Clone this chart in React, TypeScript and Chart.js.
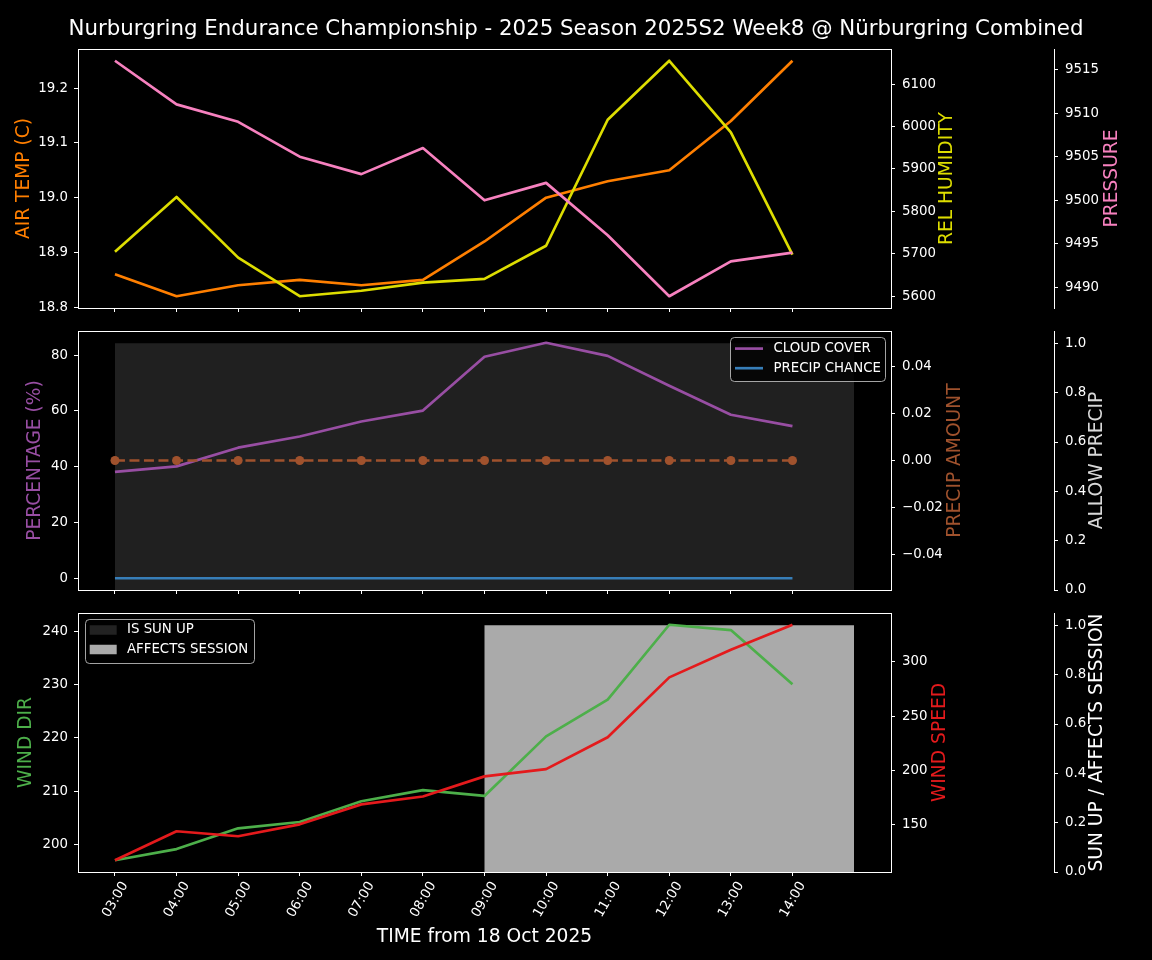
import React, { useEffect, useRef } from 'react';
import { Chart, registerables } from 'chart.js';

Chart.register(...registerables);

// ---------------- DATA ----------------
const HOURS = ['03:00', '04:00', '05:00', '06:00', '07:00', '08:00', '09:00', '10:00', '11:00', '12:00', '13:00', '14:00'];
// flags run one hour further (to 15:00)
const FLAG_HOURS = ['03:00', '04:00', '05:00', '06:00', '07:00', '08:00', '09:00', '10:00', '11:00', '12:00', '13:00', '14:00', '15:00'];

const AIR_TEMP = [18.86, 18.82, 18.84, 18.85, 18.84, 18.85, 18.92, 19.0, 19.03, 19.05, 19.14, 19.25];
const REL_HUMIDITY = [5705, 5834, 5691, 5600, 5613, 5632, 5641, 5719, 6016, 6155, 5986, 5698];
const PRESSURE = [9516, 9511, 9509, 9505, 9503, 9506, 9500, 9502, 9496, 9489, 9493, 9494];

const CLOUD_COVER = [38.1, 40.1, 46.8, 50.8, 56.2, 60.1, 79.4, 84.4, 79.7, 69.0, 58.6, 54.5];
const PRECIP_CHANCE = [0, 0, 0, 0, 0, 0, 0, 0, 0, 0, 0, 0];
const PRECIP_AMOUNT = [0, 0, 0, 0, 0, 0, 0, 0, 0, 0, 0, 0];
const ALLOW_PRECIP = [1, 1, 1, 1, 1, 1, 1, 1, 1, 1, 1, 1, 1];

const WIND_DIR = [197.0, 199.1, 203.0, 204.2, 208.1, 210.2, 209.1, 220.3, 227.2, 241.3, 240.3, 230.1];
const WIND_SPEED = [117.2, 143.9, 139.3, 150.3, 168.7, 176.0, 194.5, 201.2, 230.6, 285.8, 311.3, 334.3];
const IS_SUN_UP = [0, 0, 0, 0, 0, 0, 0, 0, 0, 0, 0, 0, 0];
const AFFECTS_SESSION = [0, 0, 0, 0, 0, 0, 1, 1, 1, 1, 1, 1, 1];

// tick labels
const TEMP_TICKS = [18.8, 18.9, 19.0, 19.1, 19.2];
const HUMIDITY_TICKS = [5600, 5700, 5800, 5900, 6000, 6100];
const PRESSURE_TICKS = [9490, 9495, 9500, 9505, 9510, 9515];
const PERCENT_TICKS = [0, 20, 40, 60, 80];
const PRECIP_AMOUNT_TICKS = [-0.04, -0.02, 0, 0.02, 0.04];
const FLAG_TICKS = [0, 0.2, 0.4, 0.6, 0.8, 1.0];
const WIND_DIR_TICKS = [200, 210, 220, 230, 240];
const WIND_SPEED_TICKS = [150, 200, 250, 300];

const TITLE = 'Nurburgring Endurance Championship - 2025 Season 2025S2 Week8 @ Nürburgring Combined';

// ---------------- STYLE ----------------
const FAMILY = '"DejaVu Sans", "Liberation Sans", sans-serif';
const TICK_FONT = { family: FAMILY, size: 13.33 };
const LW = 2.67;
const COL = {
  temp: '#ff7f00',
  humidity: '#dddd00',
  pressure: '#f781bf',
  cloud: '#984ea3',
  chance: '#377eb8',
  amount: '#a0522d',
  allow: '#202020',
  dir: '#4daf4a',
  speed: '#e41a1c',
  sun: '#222222',
  session: '#aaaaaa',
};

Chart.defaults.font.family = FAMILY;

// ---------------- HELPERS ----------------
const pts = (arr: number[]) => arr.map((v, i) => ({ x: i, y: v }));

function autoRange(...arrs: number[][]): [number, number] {
  const all = arrs.flat();
  const lo = Math.min(...all);
  const hi = Math.max(...all);
  const r = hi - lo;
  if (r === 0) {
    const d = lo === 0 ? 0.05 : Math.abs(lo) * 0.05;
    return [lo - d * 1.1, hi + d * 1.1];
  }
  return [lo - 0.05 * r, hi + 0.05 * r];
}

const X_SPAN = FLAG_HOURS.length - 1;
const X_MIN = -0.05 * X_SPAN;
const X_MAX = X_SPAN * 1.05;

function fmt(v: number, dec: number) {
  const s = Math.abs(v).toFixed(dec);
  return v < -1e-12 ? '\u2212' + s : s;
}

function xAxis(showLabels: boolean, height: number) {
  return {
    type: 'linear',
    min: X_MIN,
    max: X_MAX,
    bounds: 'data',
    afterBuildTicks: (s: any) => {
      s.ticks = HOURS.map((_, i) => ({ value: i }));
    },
    afterFit: (s: any) => {
      s.height = height;
    },
    grid: { display: true, drawOnChartArea: false, drawTicks: true, tickLength: 4, color: '#ffffff', lineWidth: 1 },
    border: { display: true, color: '#ffffff', width: 1 },
    ticks: {
      display: showLabels,
      color: '#ffffff',
      font: TICK_FONT,
      autoSkip: false,
      minRotation: 60,
      maxRotation: 60,
      labelOffset: 10,
      padding: 3,
      callback: (v: number) => HOURS[Math.round(v)] ?? '',
    },
  };
}

function yAxis(position: 'left' | 'right', width: number, range: [number, number], ticks: number[], dec: number, weight: number) {
  return {
    type: 'linear',
    position,
    weight,
    min: range[0],
    max: range[1],
    bounds: 'data',
    afterBuildTicks: (s: any) => {
      s.ticks = ticks.map((v) => ({ value: v }));
    },
    afterFit: (s: any) => {
      s.width = width;
    },
    grid: { display: true, drawOnChartArea: false, drawTicks: true, tickLength: 4, color: '#ffffff', lineWidth: 1 },
    border: { display: true, color: '#ffffff', width: 1 },
    ticks: {
      color: '#ffffff',
      font: TICK_FONT,
      autoSkip: false,
      padding: position === 'right' ? 7 : 6,
      callback: (v: number) => fmt(v, dec),
    },
  };
}

function line(label: string, data: number[], axis: string, color: string, order: number, extra: any = {}) {
  return {
    label,
    data: pts(data),
    yAxisID: axis,
    borderColor: color,
    backgroundColor: color,
    borderWidth: LW,
    pointRadius: 0,
    borderJoinStyle: 'round',
    borderCapStyle: 'butt',
    tension: 0,
    fill: false,
    order,
    ...extra,
  };
}

function flagFill(label: string, data: number[], axis: string, color: string, order: number) {
  return {
    label,
    data: pts(data),
    yAxisID: axis,
    borderColor: 'rgba(0,0,0,0)',
    backgroundColor: color,
    borderWidth: 0,
    pointRadius: 0,
    stepped: 'before',
    fill: 'origin',
    order,
  };
}

type Title = { text: string; color: string; x: number };
type LegendItem = { label: string; color: string; kind: 'line' | 'patch' };
type LegendSpec = { anchor: 'tl' | 'tr'; dx: number; dy: number; w: number; h: number; items: LegendItem[]; rows: number[]; handleX: number; handleW: number; textX: number };

function roundRect(ctx: CanvasRenderingContext2D, x: number, y: number, w: number, h: number, r: number) {
  ctx.beginPath();
  ctx.moveTo(x + r, y);
  ctx.lineTo(x + w - r, y);
  ctx.arcTo(x + w, y, x + w, y + r, r);
  ctx.lineTo(x + w, y + h - r);
  ctx.arcTo(x + w, y + h, x + w - r, y + h, r);
  ctx.lineTo(x + r, y + h);
  ctx.arcTo(x, y + h, x, y + h - r, r);
  ctx.lineTo(x, y + r);
  ctx.arcTo(x, y, x + r, y, r);
  ctx.closePath();
}

function decor(titles: Title[], legend: LegendSpec | null, extra?: (ctx: CanvasRenderingContext2D, chart: any) => void) {
  return {
    id: 'decor',
    afterDraw(chart: any) {
      const ctx: CanvasRenderingContext2D = chart.ctx;
      const a = chart.chartArea;
      ctx.save();
      // frame (top & right spines)
      const l = Math.round(a.left) + 0.5;
      const t = Math.round(a.top) + 0.5;
      const r = Math.round(a.right) + 0.5;
      const b = Math.round(a.bottom) + 0.5;
      ctx.strokeStyle = '#ffffff';
      ctx.lineWidth = 1;
      ctx.beginPath();
      ctx.moveTo(l, b);
      ctx.lineTo(l, t);
      ctx.lineTo(r, t);
      ctx.lineTo(r, b);
      ctx.stroke();

      // axis titles
      const cy = (a.top + a.bottom) / 2;
      ctx.font = `18.67px ${FAMILY}`;
      ctx.textAlign = 'center';
      ctx.textBaseline = 'middle';
      for (const tt of titles) {
        ctx.save();
        ctx.translate(tt.x, cy);
        ctx.rotate(-Math.PI / 2);
        ctx.fillStyle = tt.color;
        ctx.fillText(tt.text, 0, 0);
        ctx.restore();
      }

      // legend
      if (legend) {
        const bx = legend.anchor === 'tl' ? a.left + legend.dx : a.right - legend.dx - legend.w;
        const by = a.top + legend.dy;
        roundRect(ctx, bx + 0.5, by + 0.5, legend.w, legend.h, 4);
        ctx.fillStyle = 'rgba(0,0,0,0.8)';
        ctx.fill();
        ctx.strokeStyle = 'rgba(204,204,204,0.8)';
        ctx.lineWidth = 1;
        ctx.stroke();
        legend.items.forEach((it, i) => {
          const y = by + legend.rows[i];
          if (it.kind === 'line') {
            ctx.strokeStyle = it.color;
            ctx.lineWidth = LW;
            ctx.beginPath();
            ctx.moveTo(bx + legend.handleX, y);
            ctx.lineTo(bx + legend.handleX + legend.handleW, y);
            ctx.stroke();
          } else {
            ctx.fillStyle = it.color;
            ctx.fillRect(bx + legend.handleX, y - 4.75, legend.handleW, 9.5);
          }
          ctx.fillStyle = '#ffffff';
          ctx.font = `13.33px ${FAMILY}`;
          ctx.textAlign = 'left';
          ctx.textBaseline = 'middle';
          ctx.fillText(it.label, bx + legend.textX, y);
        });
      }
      if (extra) extra(ctx, chart);
      ctx.restore();
    },
  };
}

function baseOptions(padTop: number, scales: any) {
  return {
    animation: false,
    responsive: false,
    maintainAspectRatio: false,
    layout: { padding: { top: padTop, left: 0, right: 0, bottom: 0 } },
    plugins: { legend: { display: false }, tooltip: { enabled: false } },
    scales,
  };
}

// ---------------- LAYOUT (page pixels) ----------------
// top panel plot area 49..308, middle 331..590, bottom 613..872
const TOP_CANVAS = { top: 0, height: 328, padTop: 49, xH: 20 };
const MID_CANVAS = { top: 301, height: 309, padTop: 30, xH: 20 };
const BOT_CANVAS = { top: 583, height: 377, padTop: 30, xH: 88 };

// ---------------- PANELS ----------------
function topConfig(): any {
  return {
    type: 'line',
    data: {
      datasets: [
        line('AIR TEMP', AIR_TEMP, 'y', COL.temp, 3),
        line('REL HUMIDITY', REL_HUMIDITY, 'y1', COL.humidity, 2),
        line('PRESSURE', PRESSURE, 'y2', COL.pressure, 1),
      ],
    },
    options: baseOptions(TOP_CANVAS.padTop, {
      x: xAxis(false, TOP_CANVAS.xH),
      y: yAxis('left', 78, autoRange(AIR_TEMP), TEMP_TICKS, 1, 0),
      y1: yAxis('right', 163, autoRange(REL_HUMIDITY), HUMIDITY_TICKS, 0, 0),
      y2: yAxis('right', 98, autoRange(PRESSURE), PRESSURE_TICKS, 0, 1),
    }),
    plugins: [
      decor(
        [
          { text: 'AIR TEMP (C)', color: COL.temp, x: 24 },
          { text: 'REL HUMIDITY', color: COL.humidity, x: 947 },
          { text: 'PRESSURE', color: COL.pressure, x: 1112 },
        ],
        null,
        (ctx) => {
          ctx.fillStyle = '#ffffff';
          ctx.font = `21.33px ${FAMILY}`;
          ctx.textAlign = 'center';
          ctx.textBaseline = 'alphabetic';
          ctx.fillText(TITLE, 576, 35);
        }
      ),
    ],
  };
}

function midConfig(): any {
  return {
    type: 'line',
    data: {
      datasets: [
        flagFill('ALLOW PRECIP', ALLOW_PRECIP, 'y2', COL.allow, 10),
        line('CLOUD COVER', CLOUD_COVER, 'y', COL.cloud, 3),
        line('PRECIP CHANCE', PRECIP_CHANCE, 'y', COL.chance, 2),
        line('PRECIP AMOUNT', PRECIP_AMOUNT, 'y1', COL.amount, 1, {
          borderDash: [10, 4.5],
          pointRadius: 4.5,
          pointBorderWidth: 0,
          pointBackgroundColor: COL.amount,
          pointBorderColor: COL.amount,
        }),
      ],
    },
    options: baseOptions(MID_CANVAS.padTop, {
      x: xAxis(false, MID_CANVAS.xH),
      y: yAxis('left', 78, autoRange(CLOUD_COVER, PRECIP_CHANCE), PERCENT_TICKS, 0, 0),
      y1: yAxis('right', 163, autoRange(PRECIP_AMOUNT), PRECIP_AMOUNT_TICKS, 2, 0),
      y2: yAxis('right', 98, [0, 1.05], FLAG_TICKS, 1, 1),
    }),
    plugins: [
      decor(
        [
          { text: 'PERCENTAGE (%)', color: COL.cloud, x: 35 },
          { text: 'PRECIP AMOUNT', color: COL.amount, x: 955 },
          { text: 'ALLOW PRECIP', color: '#d8d8d8', x: 1097 },
        ],
        {
          anchor: 'tr',
          dx: 6,
          dy: 6,
          w: 155,
          h: 44,
          items: [
            { label: 'CLOUD COVER', color: COL.cloud, kind: 'line' },
            { label: 'PRECIP CHANCE', color: COL.chance, kind: 'line' },
          ],
          rows: [11.6, 31.2],
          handleX: 5,
          handleW: 28,
          textX: 43.5,
        }
      ),
    ],
  };
}

function botConfig(): any {
  return {
    type: 'line',
    data: {
      datasets: [
        flagFill('IS SUN UP', IS_SUN_UP, 'y2', COL.sun, 11),
        flagFill('AFFECTS SESSION', AFFECTS_SESSION, 'y2', COL.session, 10),
        line('WIND DIR', WIND_DIR, 'y', COL.dir, 2),
        line('WIND SPEED', WIND_SPEED, 'y1', COL.speed, 1),
      ],
    },
    options: baseOptions(BOT_CANVAS.padTop, {
      x: xAxis(true, BOT_CANVAS.xH),
      y: yAxis('left', 78, autoRange(WIND_DIR), WIND_DIR_TICKS, 0, 0),
      y1: yAxis('right', 163, autoRange(WIND_SPEED), WIND_SPEED_TICKS, 0, 0),
      y2: yAxis('right', 98, [0, 1.05], FLAG_TICKS, 1, 1),
    }),
    plugins: [
      decor(
        [
          { text: 'WIND DIR', color: COL.dir, x: 26.5 },
          { text: 'WIND SPEED', color: COL.speed, x: 940 },
          { text: 'SUN UP / AFFECTS SESSION', color: '#ffffff', x: 1097 },
        ],
        {
          anchor: 'tl',
          dx: 7,
          dy: 6,
          w: 169,
          h: 44,
          items: [
            { label: 'IS SUN UP', color: COL.sun, kind: 'patch' },
            { label: 'AFFECTS SESSION', color: COL.session, kind: 'patch' },
          ],
          rows: [11, 30.5],
          handleX: 4.7,
          handleW: 27,
          textX: 42,
        },
        (ctx, chart) => {
          const a = chart.chartArea;
          ctx.fillStyle = '#ffffff';
          ctx.font = `18.67px ${FAMILY}`;
          ctx.textAlign = 'center';
          ctx.textBaseline = 'alphabetic';
          ctx.fillText('TIME from 18 Oct 2025', (a.left + a.right) / 2, a.bottom + 70);
        }
      ),
    ],
  };
}

function Panel({ top, height, make }: { top: number; height: number; make: () => any }) {
  const ref = useRef<HTMLCanvasElement | null>(null);
  useEffect(() => {
    if (!ref.current) return;
    const chart = new Chart(ref.current, make());
    return () => chart.destroy();
  }, [make]);
  return (
    <canvas
      ref={ref}
      width={1152}
      height={height}
      style={{ position: 'absolute', left: 0, top, width: 1152, height, display: 'block' }}
    />
  );
}

export default function App() {
  return (
    <div style={{ position: 'fixed', left: 0, top: 0, width: 1152, height: 960, background: '#000000', overflow: 'hidden' }}>
      <Panel top={TOP_CANVAS.top} height={TOP_CANVAS.height} make={topConfig} />
      <Panel top={MID_CANVAS.top} height={MID_CANVAS.height} make={midConfig} />
      <Panel top={BOT_CANVAS.top} height={BOT_CANVAS.height} make={botConfig} />
    </div>
  );
}
